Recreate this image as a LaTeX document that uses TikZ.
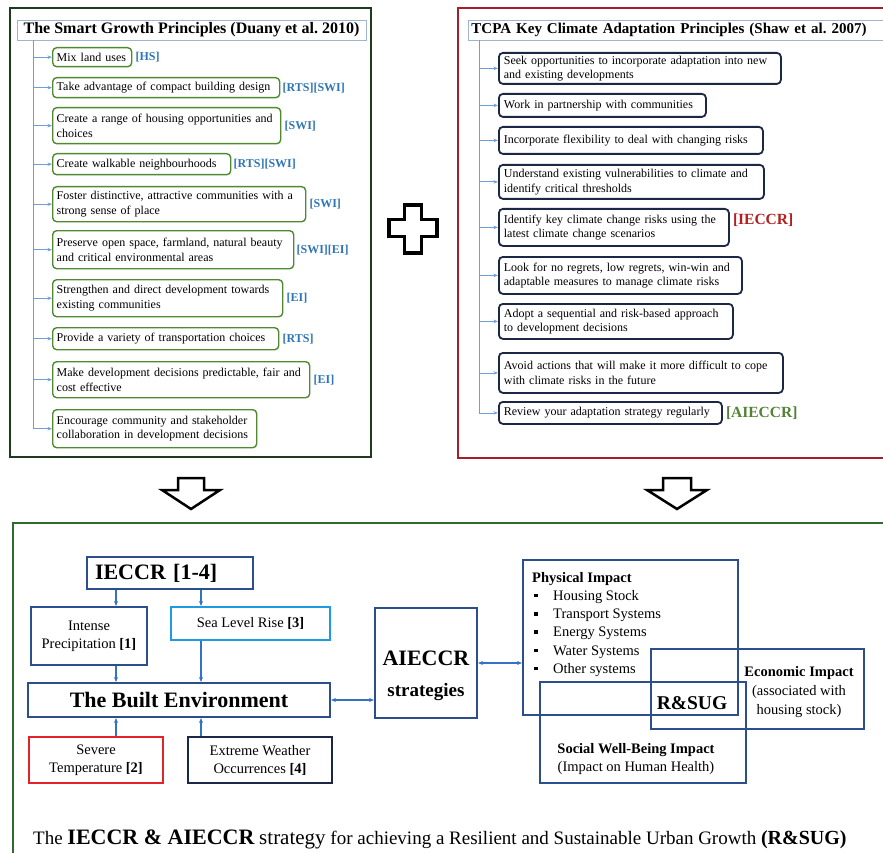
\documentclass[tikz,border=0pt]{standalone}
\usepackage{fontspec}
\setmainfont{Liberation Serif}
\usepackage{tikz}
\usetikzlibrary{positioning,arrows.meta}

\definecolor{sgrahmen}{HTML}{1F3A1F}
\definecolor{sggruen}{HTML}{4F8A30}
\definecolor{stammblau}{HTML}{6E9FD6}
\definecolor{titelgrau}{HTML}{9FB4CF}
\definecolor{tagblau}{HTML}{2E75B6}
\definecolor{tcrot}{HTML}{A3202B}
\definecolor{tcnavy}{HTML}{1C2745}
\definecolor{iecrot}{HTML}{B41E1E}
\definecolor{aiegruen}{HTML}{548235}
\definecolor{untengruen}{HTML}{2F6B2F}
\definecolor{kblau}{HTML}{2A4F8C}
\definecolor{khell}{HTML}{1E9BE0}
\definecolor{krot}{HTML}{E52228}
\definecolor{pfeilblau}{HTML}{3473C4}

\newcommand{\pkt}{\makebox[21pt][l]{\hspace{2pt}\rule[3pt]{3.5pt}{3.5pt}}}

\tikzset{
  sgbox/.style={draw=sggruen,line width=1.4pt,rounded corners=4pt,anchor=north west,
    align=left,inner xsep=4pt,inner ysep=1pt,font=\fontsize{12}{14.5}\selectfont},
  tcbox/.style={draw=tcnavy,line width=1.8pt,rounded corners=4pt,anchor=north west,
    align=left,inner xsep=5pt,inner ysep=1pt,font=\fontsize{12}{14.5}\selectfont},
  titel/.style={draw=titelgrau,line width=0.9pt,inner sep=0pt,minimum height=20pt,
    font=\bfseries\fontsize{16}{18}\selectfont},
  sgtag/.style={inner sep=1pt,text=tagblau,font=\bfseries\fontsize{12}{14}\selectfont},
  bigtag/.style={inner sep=1pt,font=\bfseries\fontsize{15.5}{18}\selectfont},
  stamm/.style={stammblau,line width=0.8pt},
  ast/.style={stammblau,line width=0.8pt,-{Stealth[length=4.5pt,width=3.5pt]}},
  kasten/.style={draw=#1,line width=2pt,align=center,inner sep=0pt,
    font=\fontsize{14.5}{18}\selectfont},
  gross/.style={font=\bfseries\fontsize{22}{26}\selectfont},
  wirk/.style={draw=kblau,line width=2pt,inner sep=0pt},
  wtext/.style={inner sep=0pt,font=\fontsize{14.5}{18.2}\selectfont},
  bpfeil/.style={pfeilblau,line width=1.3pt,-{Stealth[length=5pt,width=4pt]}},
  bpfeilzwei/.style={pfeilblau,line width=1.3pt,{Stealth[length=5pt,width=4pt]}-{Stealth[length=5pt,width=4pt]}},
  blockpfeil/.style={draw=black,line width=2.5pt,line join=miter,fill=white},
}

\begin{document}
\begin{tikzpicture}[x=1pt,y=-1pt]
  \useasboundingbox (0,0) rectangle (883,853);
  %Rahmen
  \draw[sgrahmen,line width=2.5pt] (10,8) rectangle (371,457);
  \draw[tcrot,line width=2pt] (458,8) rectangle (900,458);
  \draw[untengruen,line width=2pt] (13,523) rectangle (900,870);

  %Smart Growth
  \node[titel,minimum width=349pt] (sgtitel) at (191.5,30) {The Smart Growth Principles (Duany et al.\ 2010)};
  \node[sgbox,text width=71pt,minimum height=19pt] (g1) at (52,47) {Mix land uses};
  \node[sgbox,text width=219pt,minimum height=20pt] (g2) at (52,77) {Take advantage of compact building design};
  \node[sgbox,text width=220pt,minimum height=36pt] (g3) at (52,107) {Create a range of housing opportunities and\\choices};
  \node[sgbox,text width=170pt,minimum height=21pt] (g4) at (52,153) {Create walkable neighbourhoods};
  \node[sgbox,text width=245pt,minimum height=35pt] (g5) at (52,186) {Foster distinctive, attractive communities with a\\strong sense of place};
  \node[sgbox,text width=233pt,minimum height=38pt] (g6) at (52,230) {Preserve open space, farmland, natural beauty\\and critical environmental areas};
  \node[sgbox,text width=222pt,minimum height=37pt] (g7) at (52,279) {Strengthen and direct development towards\\existing communities};
  \node[sgbox,text width=218pt,minimum height=22pt] (g8) at (52,327) {Provide a variety of transportation choices};
  \node[sgbox,text width=249pt,minimum height=36pt] (g9) at (52,361) {Make development decisions predictable, fair and\\cost effective};
  \node[sgbox,text width=196pt,minimum height=38pt] (g10) at (52,409) {Encourage community and stakeholder\\collaboration in development decisions};
  \node[sgtag,right=2pt of g1] (t1) {[HS]};
  \node[sgtag,right=1pt of g2] (t2) {[RTS][SWI]};
  \node[sgtag,right=2pt of g3] (t3) {[SWI]};
  \node[sgtag,right=1pt of g4] (t4) {[RTS][SWI]};
  \node[sgtag,right=2pt of g5] (t5) {[SWI]};
  \node[sgtag,right=1pt of g6] (t6) {[SWI][EI]};
  \node[sgtag,right=2pt of g7] (t7) {[EI]};
  \node[sgtag,right=2pt of g8] (t8) {[RTS]};
  \node[sgtag,right=2pt of g9] (t9) {[EI]};

  %TCPA
  \node[titel,font=\bfseries\fontsize{15}{17}\selectfont,anchor=west,inner xsep=3pt,text width=430pt,align=left] (tctitel) at (468,30) {TCPA Key Climate Adaptation Principles (Shaw et al.\ 2007)};
  \node[tcbox,text width=272pt,minimum height=31pt] (c1) at (498,52) {Seek opportunities to incorporate adaptation into new\\and existing developments};
  \node[tcbox,text width=197pt,minimum height=23pt] (c2) at (498,93) {Work in partnership with communities};
  \node[tcbox,text width=254pt,minimum height=27pt] (c3) at (498,126) {Incorporate flexibility to deal with changing risks};
  \node[tcbox,text width=255pt,minimum height=34pt] (c4) at (498,164) {Understand existing vulnerabilities to climate and\\identify critical thresholds};
  \node[tcbox,text width=220pt,minimum height=37pt] (c5) at (498,208) {Identify key climate change risks using the\\latest climate change scenarios};
  \node[tcbox,text width=233pt,minimum height=37pt] (c6) at (498,256) {Look for no regrets, low regrets, win-win and\\adaptable measures to manage climate risks};
  \node[tcbox,text width=224pt,minimum height=35pt] (c7) at (498,303) {Adopt a sequential and risk-based approach\\to development decisions};
  \node[tcbox,text width=274pt,minimum height=40pt] (c8) at (498,352) {Avoid actions that will make it more difficult to cope\\with climate risks in the future};
  \node[tcbox,text width=213pt,minimum height=22pt] (c9) at (498,401) {Review your adaptation strategy regularly};
  \node[bigtag,text=iecrot,right=2pt of c5,yshift=7pt] (t10) {[IECCR]};
  \node[bigtag,text=aiegruen,right=2pt of c9] (t11) {[AIECCR]};

  %Baumlinien
  \coordinate (lstamm) at (33,40);
  \coordinate (rstamm) at (479,40);
  \draw[stamm] (lstamm) -- (lstamm |- g10.west);
  \draw[ast] (lstamm |- g1.west) -- (g1.west);
  \draw[ast] (lstamm |- g2.west) -- (g2.west);
  \draw[ast] (lstamm |- g3.west) -- (g3.west);
  \draw[ast] (lstamm |- g4.west) -- (g4.west);
  \draw[ast] (lstamm |- g5.west) -- (g5.west);
  \draw[ast] (lstamm |- g6.west) -- (g6.west);
  \draw[ast] (lstamm |- g7.west) -- (g7.west);
  \draw[ast] (lstamm |- g8.west) -- (g8.west);
  \draw[ast] (lstamm |- g9.west) -- (g9.west);
  \draw[ast] (lstamm |- g10.west) -- (g10.west);
  \draw[stamm] (rstamm) -- (rstamm |- c9.west);
  \draw[ast] (rstamm |- c1.west) -- (c1.west);
  \draw[ast] (rstamm |- c2.west) -- (c2.west);
  \draw[ast] (rstamm |- c3.west) -- (c3.west);
  \draw[ast] (rstamm |- c4.west) -- (c4.west);
  \draw[ast] (rstamm |- c5.west) -- (c5.west);
  \draw[ast] (rstamm |- c6.west) -- (c6.west);
  \draw[ast] (rstamm |- c7.west) -- (c7.west);
  \draw[ast] (rstamm |- c8.west) -- (c8.west);
  \draw[ast] (rstamm |- c9.west) -- (c9.west);

  %Pluszeichen und Blockpfeile
  \draw[line width=3.5pt,line join=miter] (404.5,205) -- (421.5,205) -- (421.5,219.5) -- (437,219.5) -- (437,236.5) -- (421.5,236.5) -- (421.5,253) -- (404.5,253) -- (404.5,236.5) -- (389,236.5) -- (389,219.5) -- (404.5,219.5) -- cycle;
  \draw[blockpfeil] (178,478) -- (204,478) -- (204,490) -- (220,490) -- (191,509) -- (162,490) -- (178,490) -- cycle;
  \draw[blockpfeil] (663,478) -- (691,478) -- (691,490) -- (707,490) -- (677,509) -- (647,490) -- (663,490) -- cycle;

  %Strategie unten
  \node[kasten=kblau,gross,minimum width=166pt,minimum height=32pt,text width=150pt,align=left] (ieccr) at (170,573) {IECCR [1-4]};
  \node[kasten=kblau,minimum width=116pt,minimum height=58pt] (nieder) at (89,636) {Intense\\Precipitation \textbf{[1]}};
  \node[kasten=khell,minimum width=159pt,minimum height=33pt] (meer) at (250.5,623.5) {Sea Level Rise \textbf{[3]}};
  \node[kasten=kblau,gross,minimum width=302pt,minimum height=34pt] (gebaut) at (179,700) {The Built Environment};
  \node[kasten=krot,minimum width=134pt,minimum height=46pt] (hitze) at (96,760) {Severe\\Temperature \textbf{[2]}};
  \node[kasten=tcnavy,minimum width=144pt,minimum height=46pt] (wetter) at (260,760) {Extreme Weather\\Occurrences \textbf{[4]}};
  \node[kasten=kblau,minimum width=102pt,minimum height=110pt] (aieccr) at (426,663) {};
  \node[inner sep=0pt,align=center,font=\bfseries\fontsize{20}{24}\selectfont] (aietext) at (426,676) {{\fontsize{22}{24}\selectfont AIECCR}\\[7.5pt]{\fontsize{19}{24}\selectfont strategies}};

  %Wirkungen
  \node[wirk,minimum width=215pt,minimum height=155pt] (phys) at (630.5,637.5) {};
  \node[wirk,minimum width=213pt,minimum height=80pt] (oekon) at (757.5,689) {};
  \node[wirk,minimum width=206pt,minimum height=101pt] (sozial) at (643,732.5) {};
  \node[wtext,anchor=north west,align=left] (phystext) at (532,572) {\textbf{Physical Impact}\\\pkt Housing Stock\\\pkt Transport Systems\\\pkt Energy Systems\\\pkt Water Systems\\\pkt Other systems};
  \node[wtext,align=center,font=\fontsize{14.5}{19}\selectfont] (oekontext) at (799,692) {\textbf{Economic Impact}\\(associated with\\housing stock)};
  \node[wtext,align=center] (sozialtext) at (636,759) {\textbf{Social Well-Being Impact}\\(Impact on Human Health)};
  \node[inner sep=0pt,font=\bfseries\fontsize{19.5}{22}\selectfont] (rsug) at (692,703) {R\&SUG};

  %Pfeile
  \coordinate (links) at (116,0);
  \coordinate (rechts) at (201,0);
  \draw[bpfeil] (ieccr.south -| links) -- (nieder.north -| links);
  \draw[bpfeil] (ieccr.south -| rechts) -- (meer.north -| rechts);
  \draw[bpfeil] (nieder.south -| links) -- (gebaut.north -| links);
  \draw[bpfeil] (meer.south -| rechts) -- (gebaut.north -| rechts);
  \draw[bpfeil] (hitze.north -| links) -- (gebaut.south -| links);
  \draw[bpfeil] (wetter.north -| rechts) -- (gebaut.south -| rechts);
  \draw[bpfeilzwei] (gebaut.east) -- (aieccr.west |- gebaut.east);
  \draw[bpfeilzwei] (aieccr.east) -- (phys.west |- aieccr.east);

  %Unterschrift
  \node[anchor=base west,inner sep=0pt,font=\fontsize{19}{22}\selectfont] (unterschrift) at (33,844) {The {\bfseries\fontsize{22}{24}\selectfont IECCR \& AIECCR} {\fontsize{21}{24}\selectfont strategy} for achieving a Resilient and Sustainable Urban Growth {\bfseries\fontsize{20}{24}\selectfont (R\&SUG)}};
\end{tikzpicture}
\end{document}
